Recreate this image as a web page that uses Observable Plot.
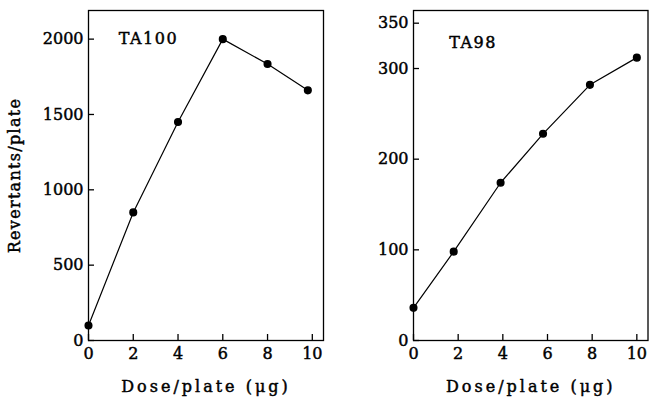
<!DOCTYPE html>
<html>
<head>
<meta charset="utf-8">
<script src="https://cdn.jsdelivr.net/npm/d3@7"></script>
<script src="https://cdn.jsdelivr.net/npm/@observablehq/plot@0.6"></script>
<style>
  html, body { margin: 0; padding: 0; background: #fff; }
  #wrap { position: relative; width: 649px; height: 400px; overflow: hidden; }
  #left, #right { position: absolute; top: 0; }
  #left { left: 0; }
  #right { left: 330px; }
</style>
</head>
<body>
<div id="wrap"><div id="left"></div><div id="right"></div></div>
<script>
// ---- data ----
const doseTA100 = [0, 2, 4, 6, 8, 9.8];
const revTA100 = [100, 850, 1450, 2000, 1835, 1660];
const doseTA98 = [0, 1.8, 3.9, 5.8, 7.9, 10];
const revTA98 = [36, 98, 174, 228, 282, 312];

const xTicks = [0, 2, 4, 6, 8, 10];
const yTicksTA100 = [0, 500, 1000, 1500, 2000];
const yTicksTA98 = [0, 100, 200, 300, 350];

const strainLabels = ["TA100", "TA98"];
const labelPosTA100 = {x: 1.35, y: 2000};
const labelPosTA98 = {x: 1.6, y: 328};

const xLabel = "Dose/plate (μg)";
const yLabel = "Revertants/plate";

const FONT = "'DejaVu Serif', 'Liberation Serif', serif";

function panel({dose, rev, yTicks, yDomain, width, marginLeft, marginRight, strain, labelPos, showYLabel}) {
  const data = dose.map((d, i) => ({dose: d, rev: rev[i]}));
  return Plot.plot({
    width, height: 400,
    marginLeft, marginRight, marginTop: 10, marginBottom: 60,
    style: {fontFamily: FONT, fontSize: "16px", color: "#000", background: "#fff"},
    x: {domain: [0, 10.5]},
    y: {domain: yDomain},
    marks: [
      Plot.frame({stroke: "#000", strokeWidth: 1.3}),
      // inward tick marks
      Plot.axisX({ticks: xTicks, tickSize: 6, dy: -6, tickFormat: () => "", label: null, strokeWidth: 1.3}),
      Plot.axisY({ticks: yTicks, tickSize: 6, dx: 6, tickFormat: () => "", label: null, strokeWidth: 1.3}),
      // tick labels and titles
      Plot.axisX({ticks: xTicks, tickSize: 0, tickPadding: 7, tickFormat: d => String(d),
        label: xLabel, labelAnchor: "center", labelOffset: 51, labelArrow: "none"}),
      Plot.axisY({ticks: yTicks, tickSize: 0, tickPadding: 5, tickFormat: d => String(d),
        label: showYLabel ? yLabel : null, labelAnchor: "center", labelOffset: 80, labelArrow: "none"}),
      Plot.line(data, {x: "dose", y: "rev", stroke: "#000", strokeWidth: 1.2}),
      Plot.dot(data, {x: "dose", y: "rev", r: 3.3, fill: "#000", stroke: "#000"}),
      Plot.text([strain], {x: labelPos.x, y: labelPos.y, text: d => d, textAnchor: "start",
        fontSize: 16, fill: "#000"})
    ]
  });
}

const left = panel({dose: doseTA100, rev: revTA100, yTicks: yTicksTA100, yDomain: [0, 2190],
  width: 330, marginLeft: 88, marginRight: 7, strain: strainLabels[0], labelPos: labelPosTA100, showYLabel: true});
const right = panel({dose: doseTA98, rev: revTA98, yTicks: yTicksTA98, yDomain: [0, 364],
  width: 319, marginLeft: 83, marginRight: 1.5, strain: strainLabels[1], labelPos: labelPosTA98, showYLabel: false});

document.getElementById("left").appendChild(left);
document.getElementById("right").appendChild(right);

// letter spacing and slightly heavier strokes to mimic the printed serif type
for (const svg of [left, right]) {
  svg.querySelectorAll("text").forEach(t => {
    const s = t.textContent;
    t.setAttribute("stroke", "#000");
    t.setAttribute("stroke-width", "0.45");
    t.setAttribute("fill", "#000");
    if (s === xLabel) t.setAttribute("letter-spacing", "3");
    if (s === yLabel) t.setAttribute("letter-spacing", "1.3");
    if (strainLabels.includes(s)) t.setAttribute("letter-spacing", "1.5");
  });
}
</script>
</body>
</html>
